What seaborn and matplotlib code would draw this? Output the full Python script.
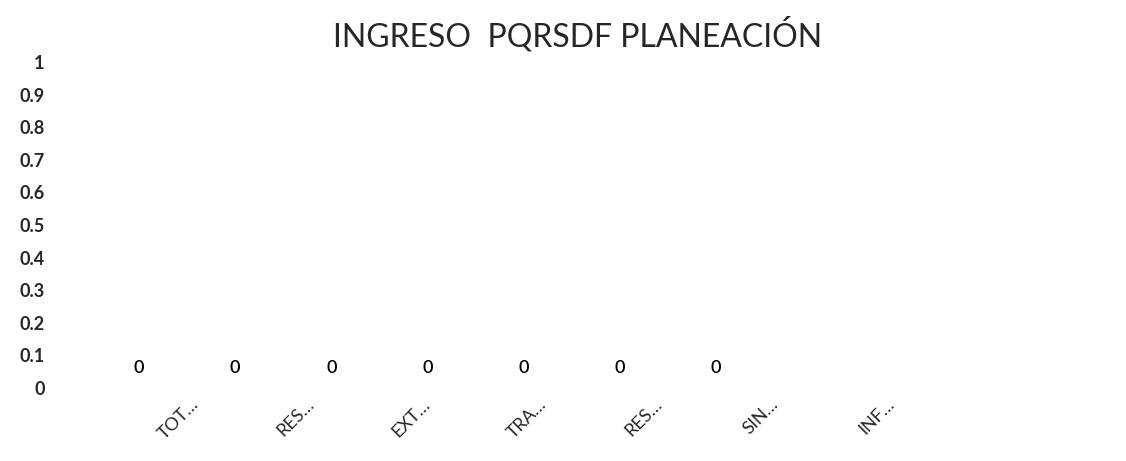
import matplotlib
matplotlib.use("Agg")
import matplotlib.pyplot as plt
import seaborn as sns
import pandas as pd

# Datos del gráfico (todas las categorías en cero)
etiquetas = ["TOT…", "RES…", "EXT…", "TRA…", "RES…", "SIN…", "INF…"]
valores = [0, 0, 0, 0, 0, 0, 0]
y_ticks = [0, 0.1, 0.2, 0.3, 0.4, 0.5, 0.6, 0.7, 0.8, 0.9, 1]
y_tick_labels = ["0", "0.1", "0.2", "0.3", "0.4", "0.5", "0.6", "0.7", "0.8", "0.9", "1"]
titulo = "INGRESO  PQRSDF PLANEACIÓN"

sns.set_style("white")
plt.rcParams['font.family'] = ['Lato', 'DejaVu Sans']

df = pd.DataFrame({"pos": list(range(len(valores))), "valor": valores})

fig = plt.figure(figsize=(11.26, 4.61), dpi=100)
ax = fig.add_axes([60 / 1126, 73 / 461, 1040 / 1126, 326 / 461])

sns.barplot(data=df, x="pos", y="valor", color="#4472C4", width=0.6, ax=ax)
for c in ax.containers:
    ax.bar_label(c, labels=[str(v) for v in valores], padding=9,
                 fontsize=13, fontweight="semibold", color="black")

ax.set_ylim(0, 1)
ax.set_yticks(y_ticks)
ax.set_yticklabels(y_tick_labels, fontsize=13, fontweight="bold")
ax.set_xlim(-0.82, 9.99)
ax.set_xticks([])
ax.set_xlabel("")
ax.set_ylabel("")
ax.tick_params(axis="y", length=0, pad=11)
sns.despine(ax=ax, left=True, bottom=True)

# eje secundario para las etiquetas de categoría (posición distinta en el original)
ax2 = ax.twiny()
ax2.set_xlim(-1.12, 7.84)
ax2.xaxis.set_ticks_position("bottom")
ax2.xaxis.set_label_position("bottom")
ax2.set_xticks(range(len(etiquetas)))
ax2.set_xticklabels(etiquetas, rotation=45, ha="right", rotation_mode="anchor",
                    fontsize=13)
ax2.tick_params(axis="x", length=0, pad=6)
for s in ax2.spines.values():
    s.set_visible(False)

fig.text(0.513, 0.924, titulo, ha="center", va="center", fontsize=23)

fig.savefig("out.png", dpi=100)
